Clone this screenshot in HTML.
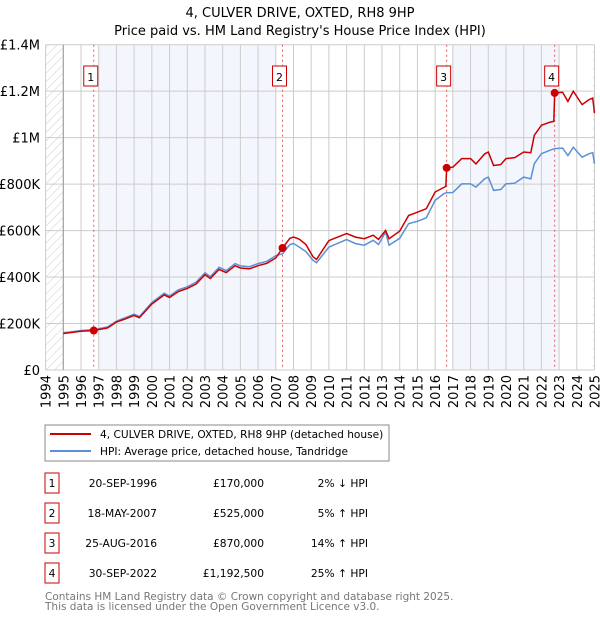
<!DOCTYPE html>
<html><head><meta charset="utf-8"><style>
body{margin:0;background:#fff;font-family:"DejaVu Sans","Liberation Sans",sans-serif;}
svg text{font-family:"DejaVu Sans","Liberation Sans",sans-serif;}
</style></head><body>
<svg id="c" width="600" height="620" xmlns="http://www.w3.org/2000/svg">
<defs><pattern id="hatch" width="6" height="6" patternUnits="userSpaceOnUse" patternTransform="rotate(45)"><line x1="0" y1="0" x2="0" y2="6" stroke="#ccc" stroke-width="1"/></pattern></defs>
<text x="300" y="17" text-anchor="middle" font-size="13">4, CULVER DRIVE, OXTED, RH8 9HP</text>
<text x="300" y="35" text-anchor="middle" font-size="13">Price paid vs. HM Land Registry's House Price Index (HPI)</text>
<g id="plot"></g>
<g>
<rect x="45" y="425" width="344" height="36" fill="#fff" stroke="#888"/>
<line x1="50" y1="434" x2="91" y2="434" stroke="#cc0000" stroke-width="2"/>
<text x="100" y="438" font-size="10.6">4, CULVER DRIVE, OXTED, RH8 9HP (detached house)</text>
<line x1="50" y1="451" x2="91" y2="451" stroke="#5b8fd6" stroke-width="2"/>
<text x="100" y="455" font-size="10.6">HPI: Average price, detached house, Tandridge</text>
</g>
<g id="table"></g>
<text x="45" y="600" font-size="10.5" fill="#777">Contains HM Land Registry data © Crown copyright and database right 2025.</text>
<text x="45" y="610" font-size="10.5" fill="#777">This data is licensed under the Open Government Licence v3.0.</text>
</svg>
<script>
const yTicks=[0,200,400,600,800,1000,1200,1400];
const yLabels=["£0","£200K","£400K","£600K","£800K","£1M","£1.2M","£1.4M"];
const years=[1994,1995,1996,1997,1998,1999,2000,2001,2002,2003,2004,2005,2006,2007,2008,2009,2010,2011,2012,2013,2014,2015,2016,2017,2018,2019,2020,2021,2022,2023,2024,2025];
const hpiT=[1995,1995.5,1996,1996.72,1997.5,1998,1998.5,1999,1999.3,2000,2000.7,2001,2001.5,2002,2002.5,2003,2003.3,2003.8,2004.2,2004.7,2005,2005.5,2006,2006.5,2007,2007.38,2007.8,2008,2008.33,2008.7,2009.1,2009.3,2010,2011,2011.5,2012,2012.5,2012.8,2013.2,2013.4,2014,2014.5,2015,2015.5,2016,2016.5,2016.65,2017,2017.5,2018,2018.3,2018.8,2019,2019.3,2019.7,2020,2020.5,2021,2021.4,2021.6,2022,2022.5,2022.75,2023.2,2023.5,2023.8,2024.3,2024.7,2024.9,2025];
const hpiV=[160,165,170,174,185,210,225,240,230,290,330,318,345,358,378,418,402,442,428,458,448,444,458,468,492,500,540,545,529,510,472,462,529,561,544,537,558,540,594,537,567,630,640,655,730,759,763,764,801,801,787,823,830,773,777,801,804,830,823,888,931,946,953,955,923,959,916,931,935,888];
const redT=[1995,1995.5,1996,1996.72,1997.5,1998,1998.5,1999,1999.3,2000,2000.7,2001,2001.5,2002,2002.5,2003,2003.3,2003.8,2004.2,2004.7,2005,2005.5,2006,2006.5,2007,2007.38,2007.8,2008,2008.33,2008.7,2009.1,2009.3,2010,2011,2011.5,2012,2012.5,2012.8,2013.2,2013.4,2014,2014.5,2015,2015.5,2016,2016.5,2016.6,2016.65,2017,2017.5,2018,2018.3,2018.8,2019,2019.3,2019.7,2020,2020.5,2021,2021.4,2021.6,2022,2022.5,2022.7,2022.75,2023.2,2023.5,2023.8,2024.3,2024.7,2024.9,2025];
const redV=[157,162,167,170,181,206,220,235,225,284,323,312,338,351,370,410,394,433,419,449,439,435,449,459,482,525,567,572,563,540,487,476,557,587,572,565,580,562,601,565,598,665,679,694,766,786,790,870,873,910,910,887,930,938,880,884,910,914,938,935,1010,1053,1067,1070,1192,1195,1156,1200,1142,1164,1170,1105];
const saleT=[1996.72,2007.38,2016.65,2022.75];
const saleV=[170,525,870,1192.5];
const saleDates=["20-SEP-1996","18-MAY-2007","25-AUG-2016","30-SEP-2022"];
const salePrices=["£170,000","£525,000","£870,000","£1,192,500"];
const saleHpi=["2% ↓ HPI","5% ↑ HPI","14% ↑ HPI","25% ↑ HPI"];

const NS="http://www.w3.org/2000/svg";
const L=45.6,R=594.5,T=44.7,B=370;
const x=t=>L+(t-1994)*(R-L)/31;
const y=v=>B-v*(B-T)/1400;
const plot=document.getElementById('plot');
function mk(tag,attrs,parent){const e=document.createElementNS(NS,tag);for(const k in attrs)e.setAttribute(k,attrs[k]);(parent||plot).appendChild(e);return e;}
[[1997,2007],[2017,2023]].forEach(b=>{const r=mk('rect',{x:x(b[0]),y:T,width:x(b[1])-x(b[0]),height:B-T,fill:'#f3f6fd'});

});
const h1=mk('rect',{x:L,y:T,width:x(1995)-L,height:B-T,fill:'url(#hatch)'});


const h2=mk('rect',{x:x(2024.9),y:T,width:R-x(2024.9),height:B-T,fill:'url(#hatch)'});


yTicks.forEach((v,i)=>{mk('line',{x1:L,x2:R,y1:y(v),y2:y(v),stroke:'#ccc'});
const t=mk('text',{x:40,y:y(v)+5,'text-anchor':'end','font-size':13});t.textContent=yLabels[i];

});
years.forEach(yr=>{mk('line',{x1:x(yr),x2:x(yr),y1:T,y2:B,stroke:'#ccc'});
const t=mk('text',{transform:`translate(${x(yr)+5},375) rotate(-90)`,'text-anchor':'end','font-size':13});t.textContent=yr;

});
mk('line',{x1:x(1995),x2:x(1995),y1:T,y2:B,stroke:'#999'});
saleT.forEach((t,i)=>{const l=mk('line',{x1:x(t),x2:x(t),y1:T,y2:B,stroke:'#e06060','stroke-dasharray':'2,3'});


const g=mk('g',{});


mk('rect',{x:x(t)-10,y:66,width:14,height:20,fill:'#fff',stroke:'#cc0000'},g);
const tx=mk('text',{x:x(t)-3,y:81,'text-anchor':'middle','font-size':11},g);tx.textContent=i+1;});
const pts=(T_,V_)=>T_.map((t,i)=>x(t).toFixed(1)+','+y(V_[i]).toFixed(1)).join(' ');
const hl=mk('polyline',{points:pts(hpiT,hpiV),fill:'none',stroke:'#5b8fd6','stroke-width':1.5});


const rl=mk('polyline',{points:pts(redT,redV),fill:'none',stroke:'#cc0000','stroke-width':1.5});


saleT.forEach((t,i)=>{const c=mk('circle',{cx:x(t),cy:y(saleV[i]),r:4,fill:'#cc0000'});

});
const tb=document.getElementById('table');
saleDates.forEach((d,i)=>{const cy=483+i*30;
const g=mk('g',{},tb);


mk('rect',{x:45,y:cy-10,width:14,height:20,fill:'#fff',stroke:'#cc0000'},g);
const a=mk('text',{x:52,y:cy+4,'text-anchor':'middle','font-size':10.7},g);a.textContent=i+1;
const b=mk('text',{x:157,y:cy+4,'text-anchor':'end','font-size':10.7},g);b.textContent=d;
const c=mk('text',{x:264,y:cy+4,'text-anchor':'end','font-size':10.7},g);c.textContent=salePrices[i];
const e=mk('text',{x:368,y:cy+4,'text-anchor':'end','font-size':10.7},g);e.textContent=saleHpi[i];});
</script>
</body></html>
